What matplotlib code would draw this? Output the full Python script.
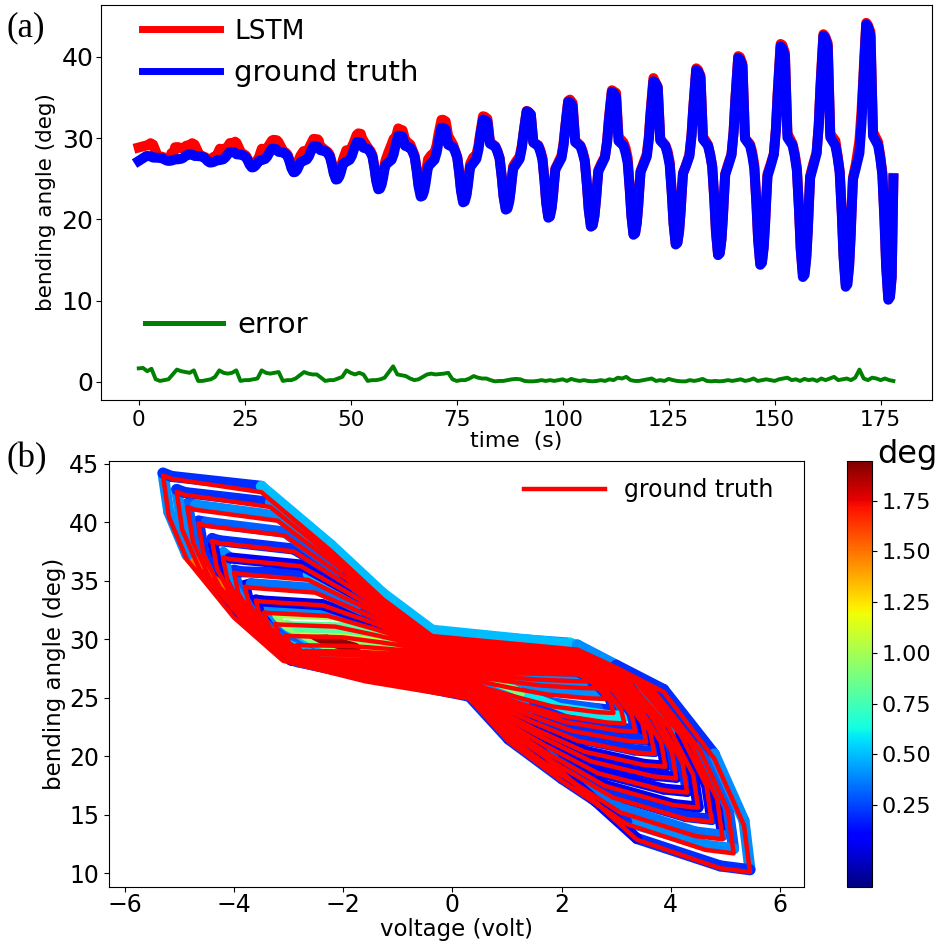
import numpy as np
import matplotlib.pyplot as plt
from matplotlib.collections import LineCollection
from matplotlib import colors, cm

# ---- values ----
# one entry per oscillation cycle (18 cycles)
peak_t = [1.8, 11.6, 21.5, 31.4, 41.2, 51.4, 61.2, 71.4, 81.2, 91.5,
          101.3, 111.6, 121.4, 131.5, 141.4, 151.4, 161.5, 171.6]
peak_deg = [27.8, 28.0, 28.3, 28.7, 29.0, 29.5, 30.3, 31.3, 32.3, 33.3,
            34.5, 35.7, 37.0, 38.4, 39.9, 41.3, 42.6, 44.0]
trough_deg = [27.2, 27.0, 26.4, 25.8, 24.9, 23.7, 22.8, 22.1, 21.2, 20.2,
              19.1, 18.1, 16.9, 15.6, 14.4, 12.9, 11.7, 10.1]
hi_shoulder = [27.6, 27.8, 28.0, 28.3, 28.5, 28.8, 29.0, 29.1, 29.2, 29.3,
               29.3, 29.4, 29.4, 29.5, 29.5, 29.6, 29.6, 29.7]
lo_shoulder = [27.4, 27.3, 27.3, 27.2, 27.1, 27.0, 26.9, 26.9, 26.8, 26.8,
               26.7, 26.7, 26.6, 26.6, 26.5, 26.5, 26.4, 26.4]
# voltage at the left (angle peak) and right (angle trough) tip of each loop
volt_left = [2.1, 2.25, 2.4, 2.55, 2.7, 2.85, 3.05, 3.25, 3.45, 3.6,
             3.8, 4.0, 4.2, 4.4, 4.65, 4.85, 5.05, 5.3]
volt_right = [2.2, 2.35, 2.5, 2.65, 2.8, 2.95, 3.15, 3.35, 3.55, 3.7,
              3.9, 4.1, 4.3, 4.5, 4.75, 4.95, 5.15, 5.45]
start_t, start_deg, start_volt = 0.0, 27.2, -0.6
end_t, end_deg, end_volt = 178.0, 25.0, 0.5

# prediction error, one value per second (0 ... 178 s)
err_deg = [
    1.65, 1.7, 1.3, 1.6, 0.3, 0.1, 0.2, 0.3, 0.9, 1.5,
    1.3, 1.2, 1.1, 1.4, 0.1, 0.1, 0.2, 0.3, 0.6, 1.4,
    1.1, 1.0, 1.1, 1.4, 0.1, 0.2, 0.2, 0.3, 0.4, 1.4,
    1.1, 1.0, 1.1, 1.2, 0.1, 0.2, 0.2, 0.4, 0.8, 1.2,
    1.0, 0.9, 0.9, 0.5, 0.1, 0.2, 0.2, 0.4, 0.6, 1.4,
    1.1, 0.9, 1.1, 0.9, 0.1, 0.2, 0.2, 0.3, 0.5, 1.2,
    1.9, 0.9, 0.8, 0.7, 0.4, 0.2, 0.3, 0.6, 0.9, 1.0,
    0.9, 0.95, 1.0, 1.1, 0.3, 0.1, 0.2, 0.2, 0.4, 0.7,
    0.5, 0.4, 0.4, 0.2, 0.05, 0.1, 0.1, 0.2, 0.3, 0.35,
    0.3, 0.1, 0.05, 0.05, 0.1, 0.2, 0.1, 0.2, 0.1, 0.2,
    0.3, 0.1, 0.35, 0.2, 0.1, 0.2, 0.1, 0.05, 0.1, 0.2,
    0.1, 0.3, 0.2, 0.5, 0.4, 0.6, 0.2, 0.1, 0.1, 0.2,
    0.3, 0.4, 0.1, 0.2, 0.1, 0.35, 0.2, 0.1, 0.05, 0.05,
    0.2, 0.1, 0.2, 0.35, 0.1, 0.05, 0.1, 0.05, 0.1, 0.2,
    0.1, 0.2, 0.3, 0.1, 0.2, 0.4, 0.1, 0.2, 0.3, 0.2,
    0.1, 0.3, 0.4, 0.5, 0.2, 0.3, 0.1, 0.35, 0.2, 0.3,
    0.1, 0.4, 0.2, 0.4, 0.6, 0.2, 0.3, 0.4, 0.2, 0.5,
    1.5, 0.4, 0.2, 0.5, 0.4, 0.2, 0.4, 0.2, 0.1,
]
err_t = np.arange(len(err_deg))
cbar_lo, cbar_hi = -0.155, 1.947

# ---- key points of each cycle ----
t_pts, gt_pts, v_pts = [start_t], [start_deg], [start_volt]
n = len(peak_t)
for k in range(n):
    P, S1, T, S2 = peak_deg[k], hi_shoulder[k], trough_deg[k], lo_shoulder[k]
    last = k == n - 1
    Pn = P if last else peak_deg[k + 1]
    dur = 10.0 if last else peak_t[k + 1] - peak_t[k]
    L, R = volt_left[k], volt_right[k]
    Ln = L if last else volt_left[k + 1]
    S1b = S1 - 0.03 * (S1 - T)
    d1, d2, d3, d4 = P - S1, S1b - T, S2 - T, Pn - S2
    # (phase in cycle, angle, voltage as fraction of the loop tip)
    shape = [
        (0.00, P, -1.0),
        (0.04, P - 0.02 * d1, -0.97),
        (0.10, P - 0.10 * d1, -0.66),
        (0.125, S1 + 0.55 * d1, -0.42),
        (0.145, S1 + 0.26 * d1, -0.24),
        (0.16, S1 + 0.04 * d1, -0.07),
        (0.28, S1b, 0.42),
        (0.33, S1b - 0.08 * d2, 0.55),
        (0.38, S1b - 0.19 * d2, 0.71),
        (0.43, S1b - 0.49 * d2, 0.88),
        (0.47, S1b - 0.79 * d2, 0.98),
        (0.52, T, 1.0),
        (0.56, T + 0.02 * d3, 0.90),
        (0.60, T + 0.17 * d3, 0.62),
        (0.635, T + 0.42 * d3, 0.39),
        (0.66, T + 0.65 * d3, 0.20),
        (0.69, T + 0.90 * d3, 0.06),
        (0.76, S2, -0.30),
        (0.84, S2 + 0.10 * d4, -0.585),
        (0.89, S2 + 0.31 * d4, -0.755),
        (0.93, S2 + 0.59 * d4, -0.917),
        (0.965, S2 + 0.80 * d4, -0.98),
    ]
    for ph, a, f in shape:
        t = peak_t[k] + ph * dur
        if t >= end_t - 0.05:
            break
        if f > 0:
            v = f * R
        else:
            v = f * (L if ph < 0.5 else Ln)
        t_pts.append(t)
        gt_pts.append(a)
        v_pts.append(v)
t_pts.append(end_t)
gt_pts.append(end_deg)
v_pts.append(end_volt)

t_pts = np.array(t_pts)
gt_pts = np.array(gt_pts)
v_pts = np.array(v_pts)
err_at = np.array(err_deg)[np.clip(np.round(t_pts).astype(int), 0, len(err_deg) - 1)]
lstm_pts = gt_pts + err_at

# ---- figure ----
fig = plt.figure(figsize=(9.45, 9.41), dpi=100)

# (a) time series
ax1 = fig.add_axes([0.1069, 0.5749, 0.8793, 0.4198])
l1, = ax1.plot(t_pts, lstm_pts, color='red', lw=7.2, label='LSTM')
l2, = ax1.plot(t_pts, gt_pts, color='blue', lw=7.2, label='ground truth')
l3, = ax1.plot(err_t, err_deg, color='green', lw=2.8, label='error')
ax1.set_xlim(-8.9, 187.1)
ax1.set_ylim(-2.25, 46.4)
ax1.set_xticks([0, 25, 50, 75, 100, 125, 150, 175])
ax1.set_yticks([0, 10, 20, 30, 40])
ax1.tick_params(axis='x', labelsize=15.5)
ax1.tick_params(axis='y', labelsize=18, pad=2)
ax1.set_xlabel('time  (s)', fontsize=15.8, labelpad=1)
ax1.set_ylabel('bending angle (deg)', fontsize=15.5)

leg1 = ax1.legend(handles=[l1, l2], loc='upper left', bbox_to_anchor=(0.049, 0.965),
                  frameon=False, fontsize=21, handlelength=2.67, handletextpad=0.5,
                  labelspacing=0.47, borderaxespad=0, borderpad=0)
leg1.get_texts()[0].set_fontsize(19)
for ln in leg1.get_lines():
    ln.set_linewidth(5)
ax1.add_artist(leg1)
leg2 = ax1.legend(handles=[l3], loc='upper left', bbox_to_anchor=(0.053, 0.225),
                  frameon=False, fontsize=21, handlelength=2.67, handletextpad=0.5,
                  borderaxespad=0, borderpad=0)
for ln in leg2.get_lines():
    ln.set_linewidth(3.6)

# (b) hysteresis loops, prediction coloured by its error
ax2 = fig.add_axes([0.1153, 0.0571, 0.7355, 0.4533])
norm = colors.Normalize(vmin=cbar_lo, vmax=cbar_hi)
pts = np.column_stack([v_pts, lstm_pts])
segs = np.stack([pts[:-1], pts[1:]], axis=1)
lc = LineCollection(segs, cmap='jet', norm=norm, linewidths=8, capstyle='round')
lc.set_array(err_at[:-1])
ax2.add_collection(lc)
ax2.plot(v_pts, gt_pts, color='red', lw=3.2, label='ground truth')
ax2.set_xlim(-6.29, 6.44)
ax2.set_ylim(8.8, 45.26)
ax2.set_xticks([-6, -4, -2, 0, 2, 4, 6])
ax2.set_yticks([10, 15, 20, 25, 30, 35, 40, 45])
ax2.tick_params(labelsize=17)
ax2.tick_params(axis='x', pad=0.5)
ax2.set_xlabel('voltage (volt)', fontsize=16.5, labelpad=0.5)
ax2.set_ylabel('bending angle (deg)', fontsize=16.5, labelpad=2)
ax2.legend(loc='upper right', bbox_to_anchor=(0.9554, 0.9594), frameon=False,
           fontsize=17, handlelength=3.4, borderaxespad=0, borderpad=0)

cax = fig.add_axes([0.8966, 0.0571, 0.0258, 0.4533])
sm = cm.ScalarMappable(norm=norm, cmap='jet')
cb = fig.colorbar(sm, cax=cax, ticks=[0.25, 0.5, 0.75, 1.0, 1.25, 1.5, 1.75])
cb.ax.tick_params(labelsize=16)
fig.text(877 / 945, 1 - 463 / 941, 'deg', fontsize=23, ha='left', va='baseline')

fig.text(0.007, 1 - 36 / 941, '(a)', fontsize=25, family='Liberation Serif', va='baseline')
fig.text(0.007, 1 - 467 / 941, '(b)', fontsize=25, family='Liberation Serif', va='baseline')

fig.savefig('out.png', dpi=100)
